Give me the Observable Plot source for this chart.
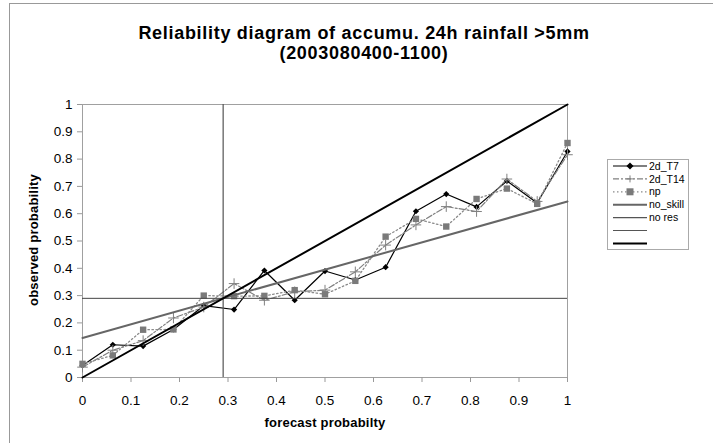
<!DOCTYPE html>
<html>
<head>
<meta charset="utf-8">
<script src="https://cdn.jsdelivr.net/npm/d3@7"></script>
<script src="https://cdn.jsdelivr.net/npm/@observablehq/plot@0.6"></script>
<style>
  html, body { margin: 0; padding: 0; background: #fff; }
  #wrap { position: relative; width: 713px; height: 443px; overflow: hidden; font-family: "Liberation Sans", Arial, sans-serif; }
  #frame { position: absolute; left: 9px; top: 3px; width: 720px; height: 460px; border-left: 1px solid #999; border-top: 1px solid #999; }
  #title { position: absolute; left: 0; width: 728px; top: 23px; text-align: center; font-weight: bold; font-size: 18px; letter-spacing: 0.7px; line-height: 20px; color: #000; }
  #xlabel { position: absolute; left: 0; width: 650px; top: 415px; text-align: center; font-weight: bold; font-size: 13px; letter-spacing: 0.2px; }
  #ylabel { position: absolute; left: 33px; top: 240px; transform: translate(-50%, -50%) rotate(-90deg); white-space: nowrap; font-weight: bold; font-size: 13px; letter-spacing: 0.2px; }
  #chart { position: absolute; left: 0; top: 0; }
  #legend { position: absolute; left: 607px; top: 159px; }
</style>
</head>
<body>
<div id="wrap">
  <div id="frame"></div>
  <div id="chart"></div>
  <div id="title">Reliability diagram of accumu. 24h rainfall &gt;5mm<br>(2003080400-1100)</div>
  <div id="xlabel">forecast probabilty</div>
  <div id="ylabel">observed probability</div>
  <div id="legend"></div>
</div>
<script>
// Forecast probability bins
const probs = [0, 0.0625, 0.125, 0.1875, 0.25, 0.3125, 0.375, 0.4375, 0.5, 0.5625, 0.625, 0.6875, 0.75, 0.8125, 0.875, 0.9375, 1];
// Observed frequencies per series
const t7  = [0.044, 0.12, 0.115, 0.176, 0.263, 0.249, 0.392, 0.283, 0.39, 0.357, 0.404, 0.609, 0.672, 0.625, 0.72, 0.639, 0.828];
const t14 = [0.038, 0.10, 0.135, 0.218, 0.258, 0.344, 0.283, 0.314, 0.32, 0.387, 0.485, 0.559, 0.626, 0.608, 0.727, 0.645, 0.816];
const npv = [0.05, 0.081, 0.175, 0.176, 0.30, 0.298, 0.299, 0.32, 0.305, 0.354, 0.516, 0.581, 0.553, 0.654, 0.692, 0.636, 0.859];
// Reference lines
const climatology = 0.29;
const noSkillX = [0, 1];
const noSkillY = [0.145, 0.645];
const perfectX = [0, 1];
const perfectY = [0, 1];
// Ticks
const xTicks = [0, 0.1, 0.2, 0.3, 0.4, 0.5, 0.6, 0.7, 0.8, 0.9, 1];
const xTickLabels = ["0", "0.1", "0.2", "0.3", "0.4", "0.5", "0.6", "0.7", "0.8", "0.9", "1"];
const yTicks = [0, 0.1, 0.2, 0.3, 0.4, 0.5, 0.6, 0.7, 0.8, 0.9, 1];
const yTickLabels = ["0", "0.1", "0.2", "0.3", "0.4", "0.5", "0.6", "0.7", "0.8", "0.9", "1"];
const legendLabels = ["2d_T7", "2d_T14", "np", "no_skill", "no res", "", ""];

const rows = (ys) => probs.map((p, i) => ({x: p, y: ys[i]}));
const T7 = rows(t7), T14 = rows(t14), NP = rows(npv);
const noSkill = noSkillX.map((x, i) => ({x, y: noSkillY[i]}));
const perfect = perfectX.map((x, i) => ({x, y: perfectY[i]}));

const plot = Plot.plot({
  width: 713,
  height: 443,
  marginLeft: 82,
  marginRight: 146,
  marginTop: 104,
  marginBottom: 66,
  x: {domain: [0, 1]},
  y: {domain: [0, 1]},
  style: {fontFamily: "'Liberation Sans', Arial, sans-serif", fontSize: "13.5px", background: "transparent", overflow: "visible"},
  marks: [
    Plot.frame({stroke: "#a0a0a0"}),
    Plot.axisX({ticks: xTicks, tickFormat: (d, i) => xTickLabels[i], tickSize: 5, tickPadding: 13, stroke: "#999", fill: "#000", label: null}),
    Plot.axisY({ticks: yTicks, tickFormat: (d, i) => yTickLabels[i], tickSize: 5, tickPadding: 5, stroke: "#999", fill: "#000", label: null}),
    // series
    Plot.line(T7, {x: "x", y: "y", stroke: "#000", strokeWidth: 1.2}),
    Plot.dot(T7, {x: "x", y: "y", symbol: "diamond2", r: 2.8, fill: "#000"}),
    Plot.line(T14, {x: "x", y: "y", stroke: "#808080", strokeWidth: 1.2, strokeDasharray: "6,2,2,2"}),
    Plot.dot(T14, {x: "x", y: "y", symbol: "plus", r: 3.5, stroke: "#808080", strokeWidth: 1}),
    Plot.line(NP, {x: "x", y: "y", stroke: "#8a8a8a", strokeWidth: 1.3, strokeDasharray: "1.5,2.5"}),
    Plot.dot(NP, {x: "x", y: "y", symbol: "square", r: 3.6, fill: "#7a7a7a"}),
    // reference lines
    Plot.line(noSkill, {x: "x", y: "y", stroke: "#666", strokeWidth: 2}),
    Plot.ruleY([climatology], {stroke: "#444", strokeWidth: 1}),
    Plot.ruleX([climatology], {stroke: "#555", strokeWidth: 1.2}),
    Plot.line(perfect, {x: "x", y: "y", stroke: "#000", strokeWidth: 2})
  ]
});
document.getElementById("chart").appendChild(plot);

// Legend
const styles = [
  {stroke: "#000", w: 1.2, dash: null, marker: "diamond"},
  {stroke: "#808080", w: 1.2, dash: "6,2,2,2", marker: "plus"},
  {stroke: "#8a8a8a", w: 1.3, dash: "1.5,2.5", marker: "square"},
  {stroke: "#666", w: 2, dash: null},
  {stroke: "#555", w: 1.2, dash: null},
  {stroke: "#555", w: 1.2, dash: null},
  {stroke: "#000", w: 2, dash: null}
];
const lw = 83, lh = 92;
const svg = d3.select("#legend").append("svg").attr("width", lw).attr("height", lh)
  .style("font-family", "'Liberation Sans', Arial, sans-serif").style("font-size", "10.5px");
svg.append("rect").attr("x", 0.5).attr("y", 0.5).attr("width", lw - 2).attr("height", lh - 2)
  .attr("fill", "#fff").attr("stroke", "#aaa");
legendLabels.forEach((lab, i) => {
  const s = styles[i];
  const y = 7 + i * 12.9;
  const g = svg.append("g");
  const ln = g.append("line").attr("x1", 6).attr("x2", 40).attr("y1", y).attr("y2", y)
    .attr("stroke", s.stroke).attr("stroke-width", s.w);
  if (s.dash) ln.attr("stroke-dasharray", s.dash);
  if (s.marker === "diamond") {
    g.append("path").attr("d", d3.symbol(d3.symbolDiamond2, 32)()).attr("transform", `translate(23,${y})`).attr("fill", "#000");
  } else if (s.marker === "plus") {
    g.append("path").attr("d", `M19.5,${y}H26.5M23,${y - 3.5}V${y + 3.5}`).attr("stroke", "#808080").attr("stroke-width", 1);
  } else if (s.marker === "square") {
    g.append("rect").attr("x", 19.5).attr("y", y - 3.5).attr("width", 7).attr("height", 7).attr("fill", "#7a7a7a");
  }
  if (lab) g.append("text").attr("x", 42).attr("y", y).attr("dy", "0.35em").text(lab);
});
</script>
</body>
</html>
